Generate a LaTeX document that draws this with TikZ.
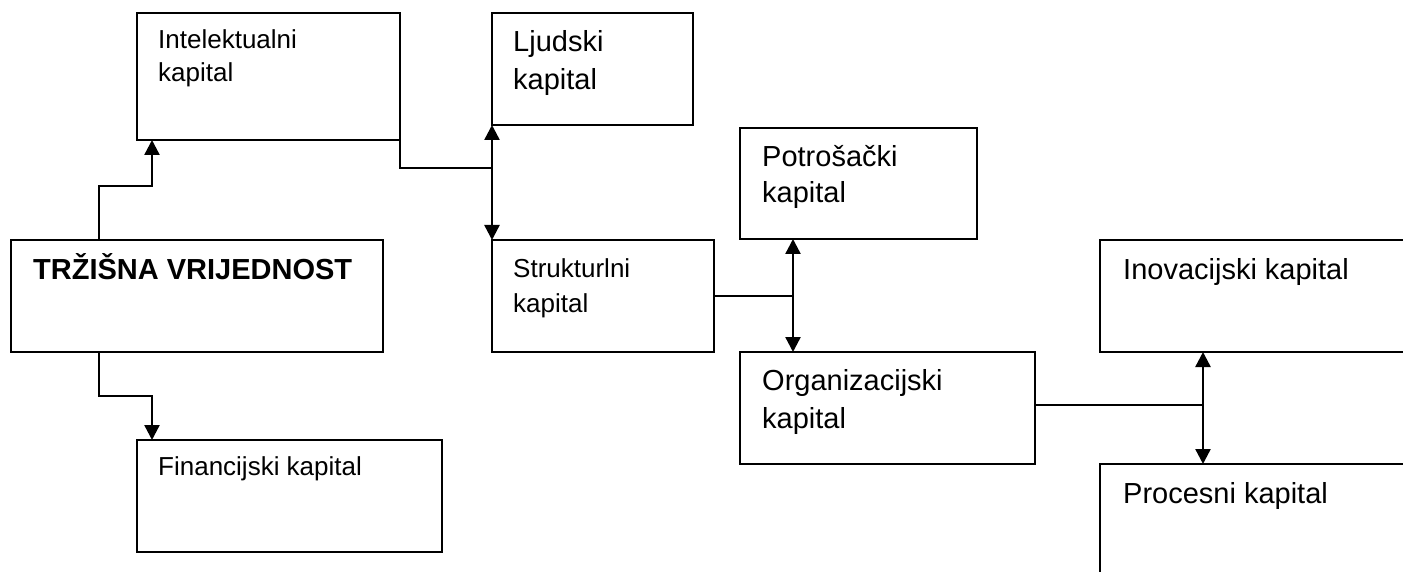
\documentclass[tikz,border=0pt]{standalone}
\usepackage{fontspec}
\setmainfont{Liberation Sans}
\usetikzlibrary{arrows.meta,calc}
\begin{document}
\begin{tikzpicture}[x=1pt,y=-1pt,
  box/.style={draw, line width=1.4pt, anchor=north west, inner sep=0pt, outer sep=0pt},
  big/.style={anchor=base west, inner sep=0pt, align=left, font=\fontsize{29}{38}\selectfont},
  small/.style={anchor=base west, inner sep=0pt, align=left, font=\fontsize{26}{34}\selectfont},
  conn/.style={line width=2.4pt},
  thinconn/.style={line width=1.4pt},
  tip/.style={-{Triangle[width=15pt,length=15pt]}},
  dtip/.style={{Triangle[width=15pt,length=15pt]}-{Triangle[width=15pt,length=15pt]}}]
\clip (0,0) rectangle (1403,572);
% boxes
\node[box, minimum width=263pt, minimum height=127pt] (il) at (137,13) {};
\node[box, minimum width=201pt, minimum height=112pt] (lj) at (492,13) {};
\node[box, minimum width=237pt, minimum height=111pt] (pot) at (740,128) {};
\node[box, minimum width=372pt, minimum height=112pt] (tv) at (11,240) {};
\node[box, minimum width=222pt, minimum height=112pt] (st) at (492,240) {};
\node[box, minimum width=330pt, minimum height=112pt] (inv) at (1100,240) {};
\node[box, minimum width=295pt, minimum height=112pt] (org) at (740,352) {};
\node[box, minimum width=305pt, minimum height=112pt] (fin) at (137,440) {};
\node[box, minimum width=330pt, minimum height=140pt] (proc) at (1100,464) {};
% texts (base anchor = last line's baseline)
\node[small, font=\fontsize{26}{33}\selectfont] (ilt) at (158,82) {Intelektualni\\kapital};
\node[big] (ljt) at (513,90) {Ljudski\\kapital};
\node[big, font=\fontsize{29}{36}\selectfont] (pott) at (762,203) {Potrošački\\kapital};
\node[big, font=\fontsize{29}{38}\selectfont\bfseries] (tvt) at (33,279) {TRŽIŠNA VRIJEDNOST};
\node[small, font=\fontsize{26}{35}\selectfont] (stt) at (513,312) {Strukturlni\\kapital};
\node[big] (invt) at (1123,279) {Inovacijski kapital};
\node[big] (orgt) at (762,428) {Organizacijski\\kapital};
\node[small] (fint) at (158,475) {Financijski kapital};
\node[big] (proct) at (1123,503) {Procesni kapital};
% bus points
\coordinate (b1) at ($(lj.south west)+(0,43)$);
\coordinate (b2) at ($(pot.south west)+(53,0)$);
\coordinate (b3) at ($(inv.south west)+(103,0)$);
\coordinate (o1) at ($(org.east)+(0,-3)$);
% connectors
\draw[conn, tip] ($(tv.north west)+(88,0)$) |- ($(il.south west)+(15,46)$) -- ($(il.south west)+(15,0)$);
\draw[conn, tip] ($(tv.south west)+(88,0)$) |- ($(fin.north west)+(15,-44)$) -- ($(fin.north west)+(15,0)$);
\draw[conn] ($(il.south east)+(0,-44)$) |- (b1);
\draw[conn, dtip] (lj.south west) -- (st.north west);
\draw[thinconn] (st.east) -- (st.east -| b2);
\draw[conn, dtip] (b2) -- (b2 |- org.north);
\draw[thinconn] (o1) -- (o1 -| b3);
\draw[conn, dtip] (b3) -- (b3 |- proc.north);
\end{tikzpicture}
\end{document}
